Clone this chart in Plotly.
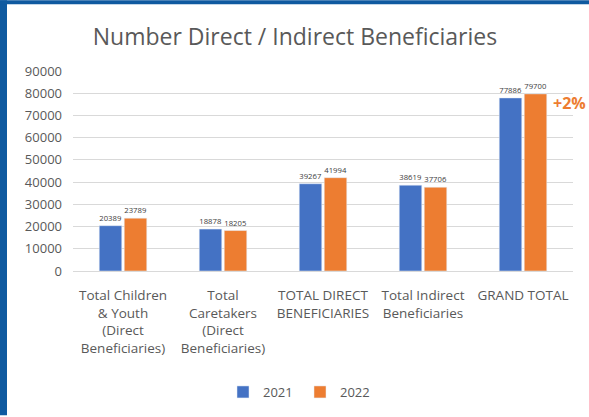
import plotly.graph_objects as go

categories = [
    "Total Children<br>& Youth<br>(Direct<br>Beneficiaries)",
    "Total<br>Caretakers<br>(Direct<br>Beneficiaries)",
    "TOTAL DIRECT<br>BENEFICIARIES",
    "Total Indirect<br>Beneficiaries",
    "GRAND TOTAL",
]
values_2021 = [20389, 18878, 39267, 38619, 77886]
values_2022 = [23789, 18205, 41994, 37706, 79700]
y_ticks = [0, 10000, 20000, 30000, 40000, 50000, 60000, 70000, 80000, 90000]

W, H = 589, 417
ML, MR, MT, MB = 73, 16, 71, 145
PW, PH = W - ML - MR, H - MT - MB


def px_x(p):
    return (p - ML) / PW


def px_y(p):
    return (H - MB - p) / PH


FONT = "Open Sans"
GREY = "#595959"

fig = go.Figure()
fig.add_bar(x=categories, y=values_2021, name="2021", marker_color="#4472C4",
            text=values_2021, textposition="outside", cliponaxis=False,
            textfont=dict(size=8, color="#404040"))
fig.add_bar(x=categories, y=values_2022, name="2022", marker_color="#ED7D31",
            text=values_2022, textposition="outside", cliponaxis=False,
            textfont=dict(size=8, color="#404040"))

fig.update_layout(
    width=W, height=H,
    margin=dict(l=ML, r=MR, t=MT, b=MB),
    paper_bgcolor="white", plot_bgcolor="white",
    barmode="group", bargap=0.5, bargroupgap=0.1,
    font=dict(family=FONT, color=GREY, size=12),
    title=dict(text="Number Direct / Indirect Beneficiaries", x=px_x(295), xanchor="center",
               xref="paper", y=1 - 37 / H, yanchor="middle", font=dict(size=23, color=GREY)),
    legend=dict(orientation="h", x=px_x(300), xanchor="center", y=px_y(392), yanchor="middle",
                font=dict(size=13, color=GREY), itemwidth=30, entrywidth=32),
    showlegend=True,
)
fig.update_yaxes(range=[0, 90000], tickvals=y_ticks, ticktext=[str(v) for v in y_ticks],
                 showgrid=True, gridcolor="#d9d9d9", zeroline=False, showline=False,
                 tickfont=dict(size=13, color=GREY), ticks="", ticklabelstandoff=10)
fig.update_xaxes(showline=True, linecolor="#d9d9d9", tickfont=dict(size=13.5, color=GREY),
                 tickangle=0, ticks="", ticklabelstandoff=12)

fig.add_annotation(text="<b>+2%</b>", x=px_x(551), y=px_y(103), xref="paper", yref="paper",
                   xanchor="left", yanchor="middle", showarrow=False,
                   font=dict(size=16, color="#ED7D31"))

# blue frame of the original slide
fig.add_shape(type="rect", xref="paper", yref="paper", x0=px_x(0), x1=px_x(7),
              y0=px_y(H), y1=px_y(0), fillcolor="#0F5AA0", line_width=0)
fig.add_shape(type="rect", xref="paper", yref="paper", x0=px_x(0), x1=px_x(W),
              y0=px_y(4), y1=px_y(0), fillcolor="#0F5AA0", line_width=0)

fig.write_html("out.html", config={"displayModeBar": False},
               post_script="document.body.style.margin='0';")
